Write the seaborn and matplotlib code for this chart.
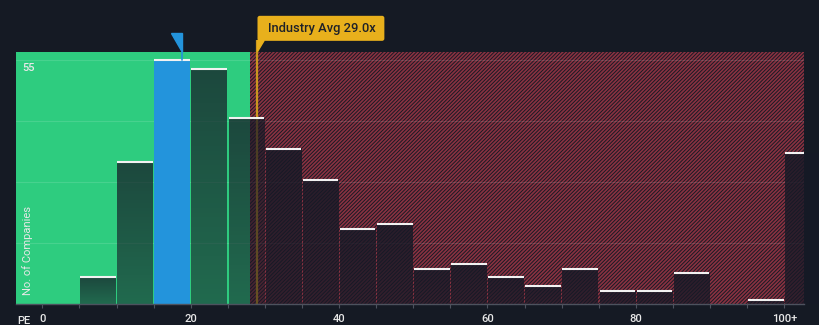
import matplotlib
matplotlib.use("Agg")
import matplotlib.pyplot as plt
import numpy as np
import seaborn as sns
from matplotlib.patches import Polygon, FancyBboxPatch

# Price-to-earnings distribution: bins of width 5 (last bin collects 100+)
bin_starts = [5, 10, 15, 20, 25, 30, 35, 40, 45, 50, 55, 60, 65, 70, 75, 80, 85, 95, 100]
company_counts = [6, 32, 55, 53, 42, 35, 28, 17, 18, 8, 9, 6, 4, 8, 3, 3, 7, 1, 34]
tick_values = [0, 20, 40, 60, 80, 100]
tick_labels = ["0", "20", "40", "60", "80", "100+"]
company_pe = 18.8
industry_avg = 29.0
green_zone_end = 28.0
count_label = 55

BIN_W = 5
BG = "#151a24"
GREEN = "#2ecc7f"
BLUE = "#2394dc"
GOLD = "#e8b01c"
HATCH_RED = "#8a3141"
BAR_DARK = (0.09, 0.10, 0.15)
TEXT = "#e8e8e8"

sns.set_theme(style="white")
plt.rcParams["font.family"] = ["Roboto", "DejaVu Sans"]
plt.rcParams["hatch.linewidth"] = 1.2

centers = [s + BIN_W / 2 for s in bin_starts]

fig = plt.figure(figsize=(8.2, 3.25), dpi=100, facecolor=BG)
ax = fig.add_axes([16 / 820, 21 / 325, 788 / 820, 252 / 325])
ax.set_facecolor(BG)
XLIM = (-3.55, 102.66)
YLIM = (0, 56.9)

# background zones
ax.axvspan(XLIM[0], green_zone_end, color=GREEN, lw=0, zorder=0)
ax.axvspan(green_zone_end, XLIM[1], facecolor=BG, edgecolor=HATCH_RED,
           hatch="/////////", lw=0, zorder=0)

# horizontal guides at quarters of the labelled count
for k in range(1, 5):
    ax.axhline(count_label * k / 4, color="white", alpha=0.12, lw=0.8, zorder=1)

# industry average marker line (sits under the translucent bars)
ax.plot([industry_avg, industry_avg], [0, 59.5], color="#c9961f", lw=1.6,
        zorder=1.5, clip_on=False, solid_capstyle="butt")

sns.barplot(x=centers, y=company_counts, native_scale=True, width=0.96,
            color="#1d2230", saturation=1, ax=ax, zorder=2)

bars = ax.containers[0]
for bar, start in zip(bars, bin_starts):
    x0 = bar.get_x()
    x1 = x0 + bar.get_width()
    h = bar.get_height()
    bar.set_linewidth(0)
    bar.set_edgecolor("none")
    if start <= company_pe < start + BIN_W:
        bar.set_facecolor(BLUE)
        bar.set_alpha(1)
        continue
    bar.set_facecolor("none")
    if start < green_zone_end:
        grad_alpha = np.linspace(0.74, 0.55, 64)
    else:
        grad_alpha = np.linspace(0.84, 0.74, 64)
    rgba = np.zeros((64, 1, 4))
    rgba[..., 0], rgba[..., 1], rgba[..., 2] = BAR_DARK
    rgba[:, 0, 3] = grad_alpha
    im = ax.imshow(rgba, extent=(x0, x1, 0, h), aspect="auto", origin="upper",
                   interpolation="bilinear", zorder=2)
    im.set_clip_path(bar)

# white caps on each bar
half = BIN_W * 0.96 / 2
ax.hlines(company_counts, [c - half for c in centers], [c + half for c in centers],
          color="#f2f2f2", lw=1.5, zorder=4)

ax.set_xlim(*XLIM)
ax.set_ylim(*YLIM)

# company marker flag
ax.add_patch(Polygon([(company_pe - 1.45, 61.2), (company_pe, 61.2), (company_pe, 56.9)],
                     closed=True, color=BLUE, clip_on=False, zorder=5))
ax.plot([company_pe, company_pe], [company_counts[bin_starts.index(15)], 57],
        color=BLUE, lw=1.2, clip_on=False, zorder=5)

# industry average tag
ax.add_patch(FancyBboxPatch((industry_avg, 59.42), 17.1, 5.65,
                            boxstyle="round,pad=0,rounding_size=0.3",
                            mutation_aspect=1.7, fc=GOLD, ec="none",
                            clip_on=False, zorder=5))
ax.add_patch(Polygon([(industry_avg, 59.5), (industry_avg + 0.9, 59.5), (industry_avg, 57.0)],
                     closed=True, color=GOLD, clip_on=False, zorder=5))
ax.text(industry_avg + 1.38, 62.25, f"Industry Avg {industry_avg:.1f}x",
        ha="left", va="center", fontsize=9.3, color="#1e2128", zorder=6,
        clip_on=False, fontweight="medium")

# axes styling
ax.set_xticks(np.arange(0, 101, BIN_W))
ax.set_xticklabels([tick_labels[tick_values.index(v)] if v in tick_values else ""
                    for v in range(0, 101, BIN_W)], fontweight="medium")
ax.set_yticks([])
ax.tick_params(axis="x", length=3, width=0.8, color="#4d525e", labelcolor=TEXT,
               labelsize=8, pad=4.5, bottom=True)
for side in ("top", "left", "right"):
    ax.spines[side].set_visible(False)
ax.spines["bottom"].set_color("#4d525e")
ax.spines["bottom"].set_linewidth(1.0)
ax.set_xlabel("")
ax.set_ylabel("")

ax.text(-2.75, 53.3, str(count_label), ha="left", va="center", fontsize=8,
        color=TEXT, fontweight="medium")
ax.text(-2.0, 12.0, "No. of Companies", rotation=90, ha="center", va="center",
        fontsize=8, color=TEXT)
fig.text(17.7 / 820, 1 - 324 / 325, "PE", ha="left", va="baseline",
         fontsize=8, color=TEXT, fontweight="medium")

fig.savefig("out.png", dpi=100, facecolor=BG)
